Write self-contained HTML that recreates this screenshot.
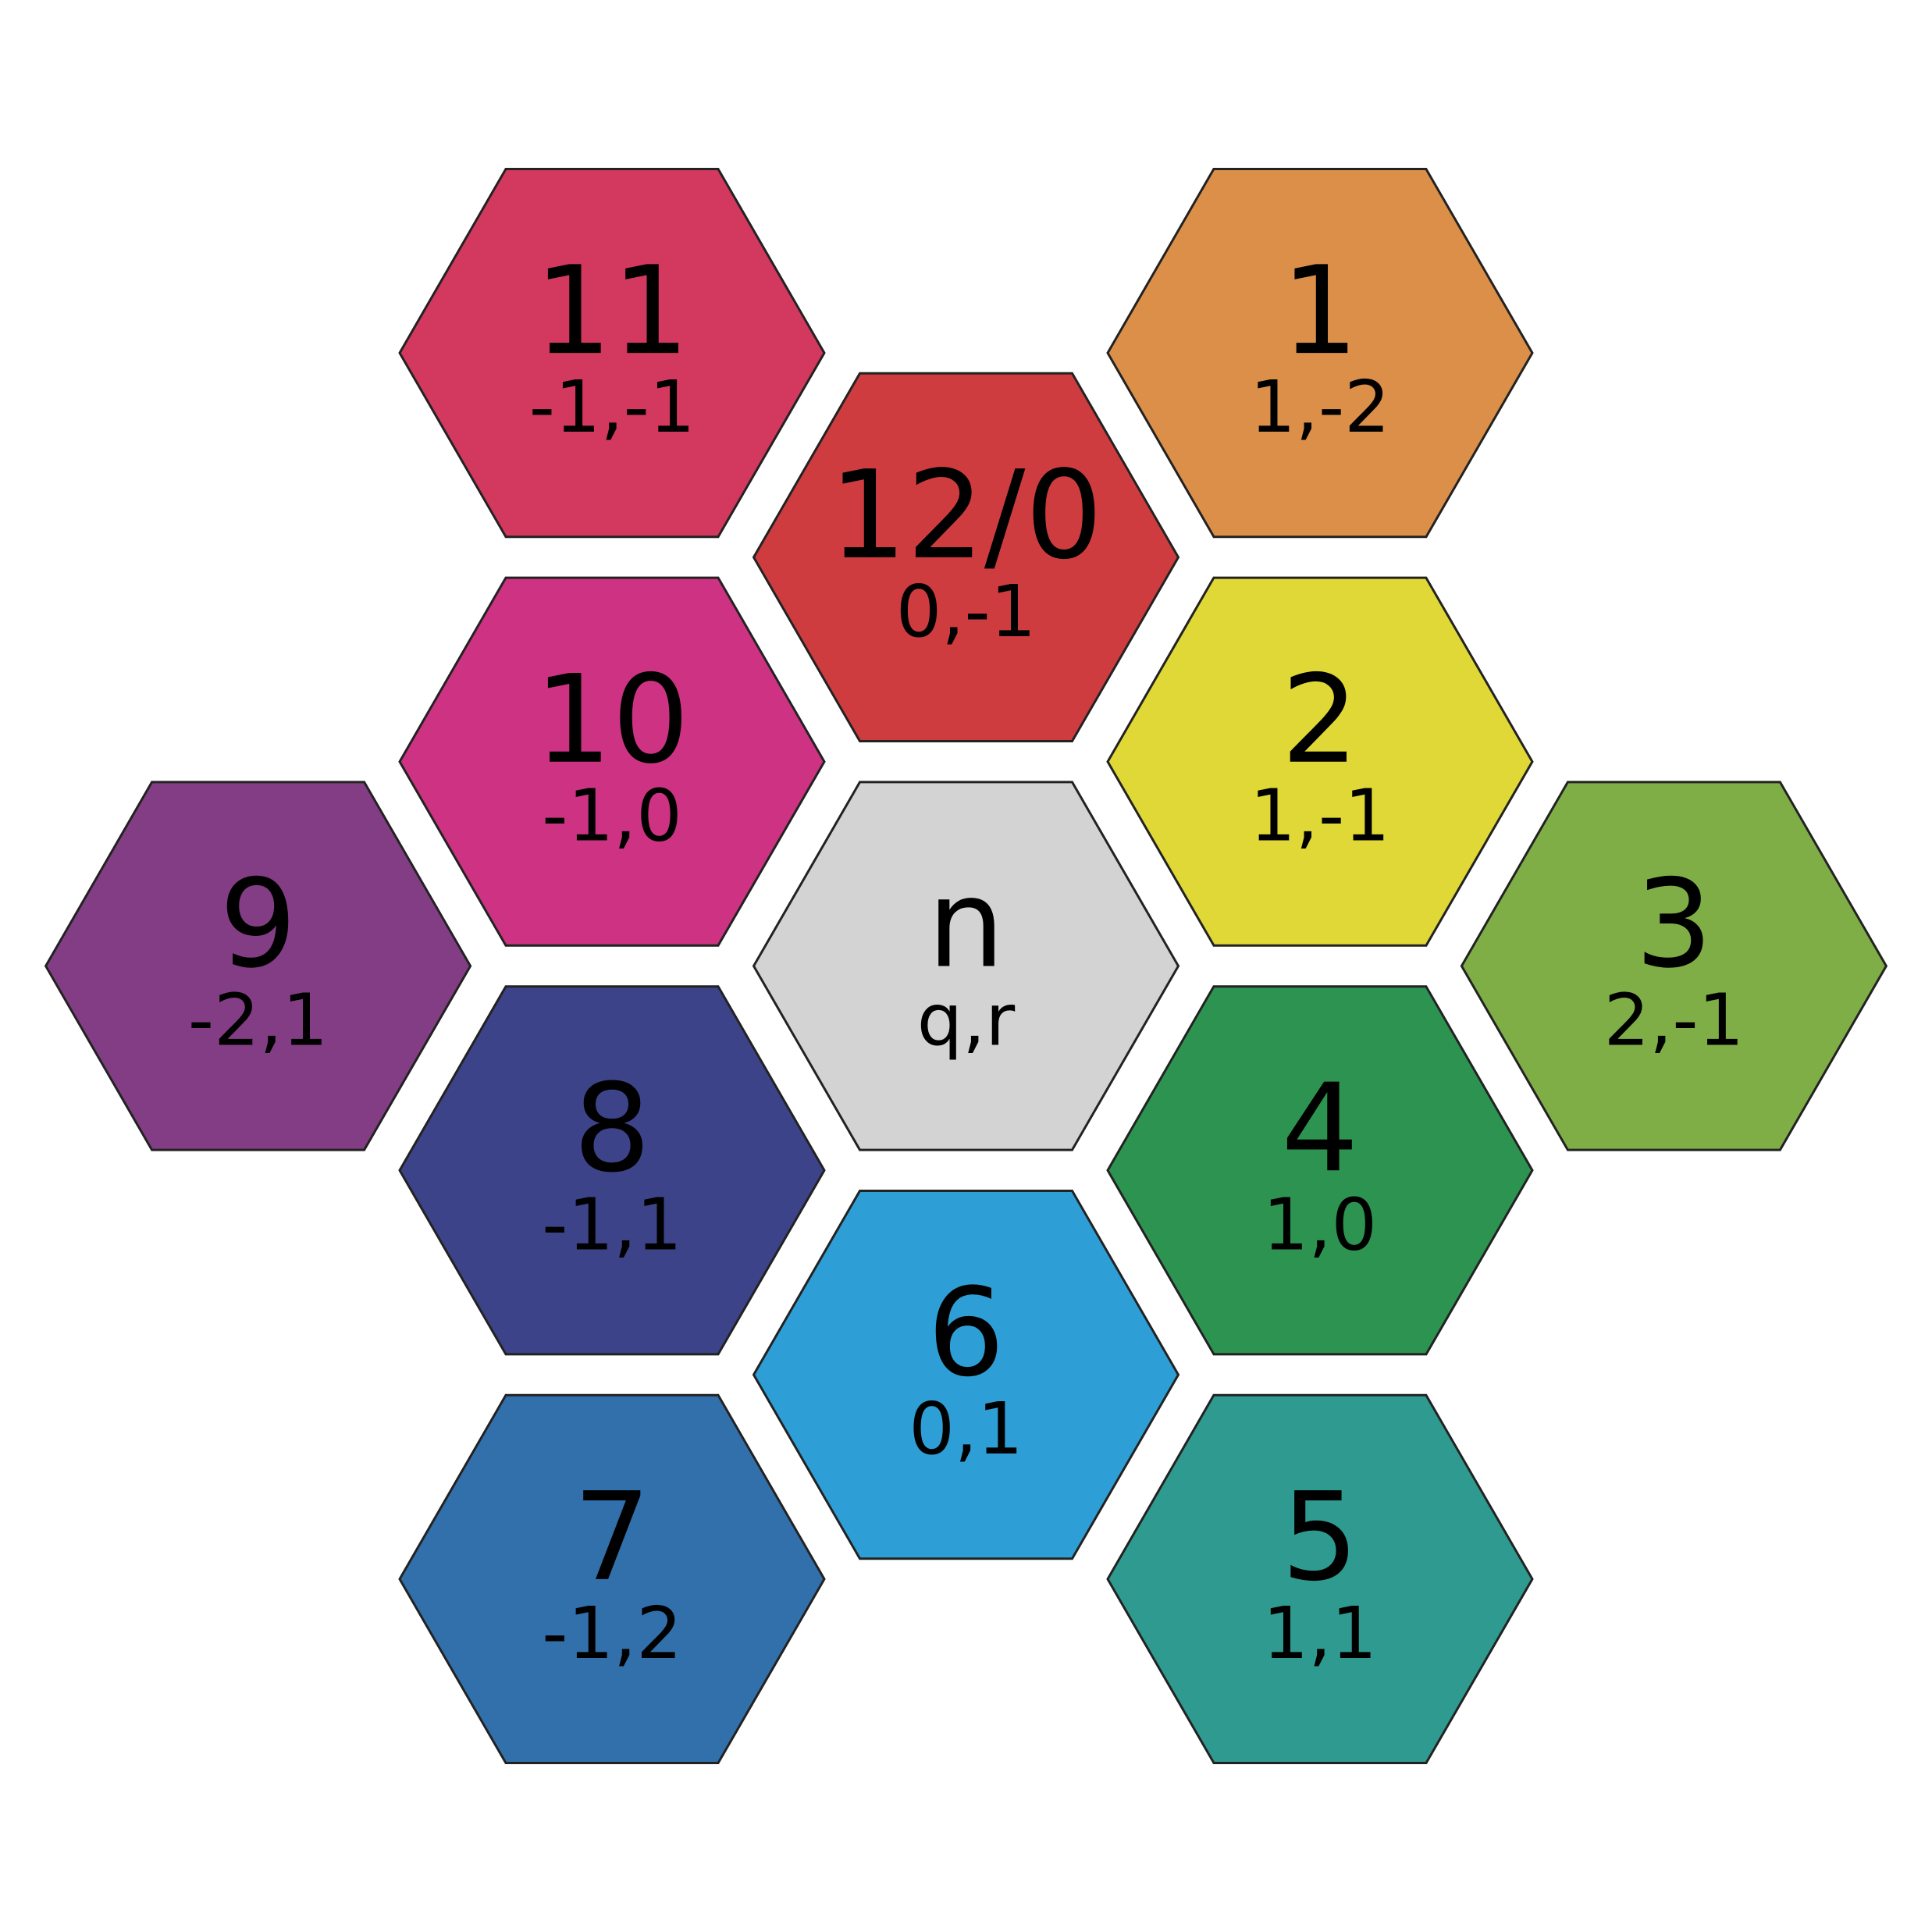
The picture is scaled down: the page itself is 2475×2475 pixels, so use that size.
<!DOCTYPE html>
<html><head><meta charset="utf-8"><style>
html,body{margin:0;padding:0;background:#fff;}
svg{display:block;}
text{font-family:"DejaVu Sans","Liberation Sans",sans-serif;fill:#000;text-anchor:middle;}
</style></head>
<body>
<svg id="chart" width="2475" height="2475" viewBox="0 0 2475 2475" xmlns="http://www.w3.org/2000/svg"></svg>
<script>
const labels = ["n","1","2","3","4","5","6","7","8","9","10","11","12/0"];
const coordsQ = [0,1,1,2,1,1,0,-1,-1,-2,-1,-1,0];
const coordsR = [0,-2,-1,-1,0,1,1,2,1,1,0,-1,-1];
const subLabels = ["q,r","1,-2","1,-1","2,-1","1,0","1,1","0,1","-1,2","-1,1","-2,1","-1,0","-1,-1","0,-1"];
const fills = ["#d3d3d3","#dc8f48","#dfd836","#7fae46","#2c9450","#2f9a8f","#2e9fd6","#3270ac","#3c4389","#833d84","#cd3382","#d3385e","#cf3c3f"];

const svg = document.getElementById('chart');
const NS = 'http://www.w3.org/2000/svg';
const cx0 = 1237.5, cy0 = 1237.5, layout = 302.3, hexR = 272;
function px(q, r){ return 1.5*layout*q + cx0; }
function py(q, r){ return Math.sqrt(3)*layout*(r + q/2) + cy0; }

for (let i = 0; i < labels.length; i++) {
  const x = px(coordsQ[i], coordsR[i]), y = py(coordsQ[i], coordsR[i]);
  const g = document.createElementNS(NS, 'g');
  
  
  const pts = [];
  for (let k = 0; k < 6; k++) {
    const a = Math.PI/3*k;
    pts.push((x + hexR*Math.cos(a)).toFixed(1) + ',' + (y + hexR*Math.sin(a)).toFixed(1));
  }
  const poly = document.createElementNS(NS, 'polygon');
  poly.setAttribute('points', pts.join(' '));
  poly.setAttribute('fill', fills[i]);
  poly.setAttribute('stroke', '#222');
  poly.setAttribute('stroke-width', '3');
  
  
  g.appendChild(poly);
  const t1 = document.createElementNS(NS, 'text');
  t1.setAttribute('x', x); t1.setAttribute('y', y);
  t1.setAttribute('font-size', '156');
  t1.textContent = labels[i];
  
  
  g.appendChild(t1);
  const t2 = document.createElementNS(NS, 'text');
  t2.setAttribute('x', x); t2.setAttribute('y', y + 101);
  t2.setAttribute('font-size', '92');
  t2.textContent = subLabels[i];
  
  
  g.appendChild(t2);
  svg.appendChild(g);
}
</script>
</body></html>
